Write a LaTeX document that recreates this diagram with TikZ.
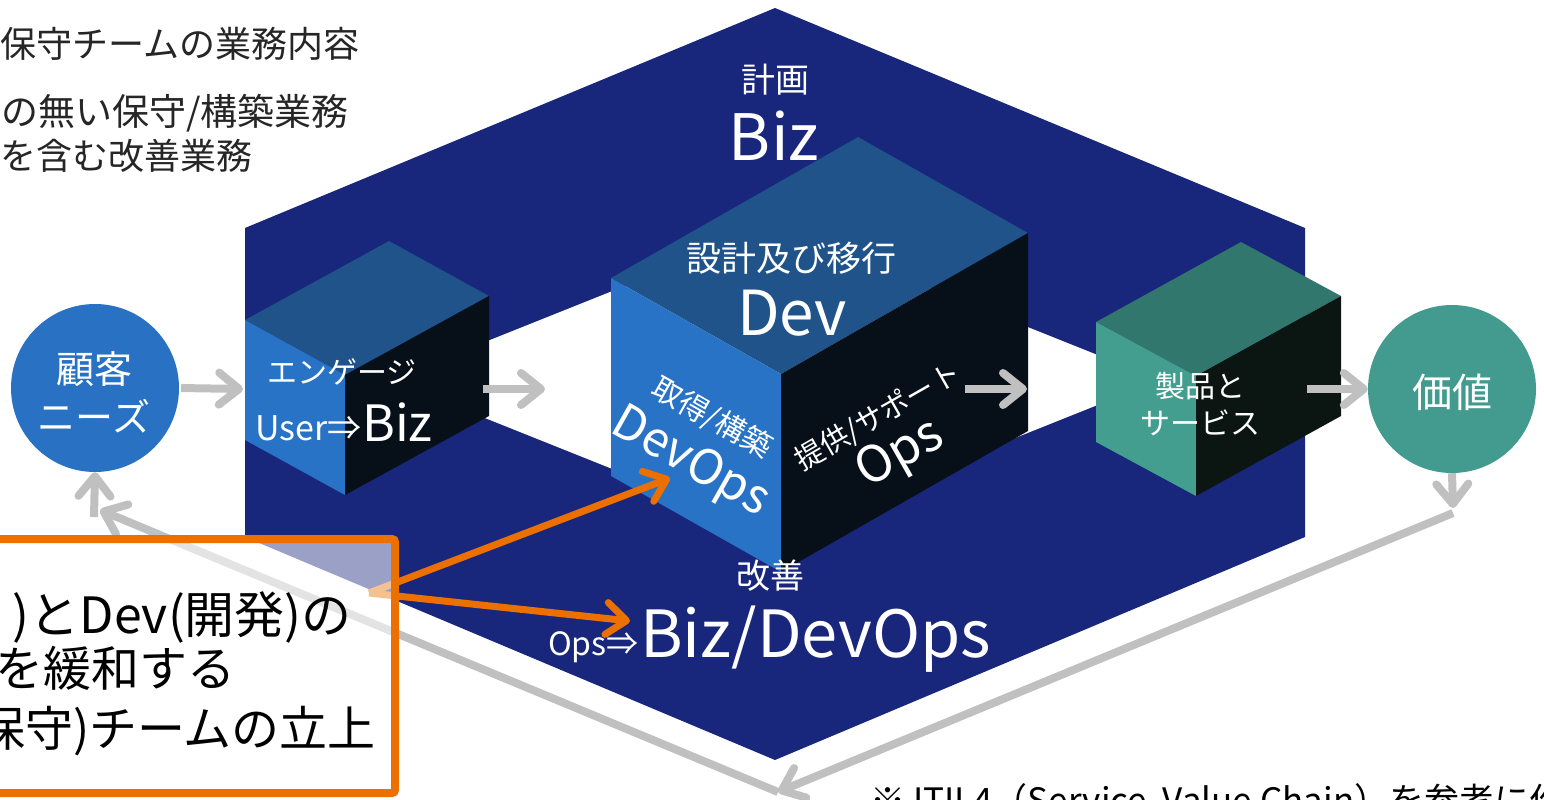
\documentclass[tikz,border=0pt]{standalone}
\usepackage{fontspec}
\setmainfont{Noto Sans CJK JP}
\usetikzlibrary{arrows.meta}

\definecolor{hexnavy}{RGB}{24,38,124}
\definecolor{blueTop}{RGB}{31,83,138}
\definecolor{blueSide}{RGB}{40,115,197}
\definecolor{blueDark}{RGB}{7,15,24}
\definecolor{tealTop}{RGB}{50,119,110}
\definecolor{tealSide}{RGB}{67,158,143}
\definecolor{tealDark}{RGB}{11,22,19}
\definecolor{needsBlue}{RGB}{41,113,194}
\definecolor{valueTeal}{RGB}{66,155,142}
\definecolor{flowGray}{RGB}{192,192,192}
\definecolor{noteOrange}{RGB}{236,112,0}
\definecolor{inkGray}{RGB}{38,38,38}

\newcommand{\pxfont}[1]{\fontsize{#1}{#1}\selectfont}

\tikzset{
  wlabel/.style={text=white, inner sep=0pt},
  klabel/.style={text=black, inner sep=0pt},
  glabel/.style={text=inkGray, inner sep=0pt},
  stage/.style={circle, inner sep=0pt, minimum size=168pt},
  flow/.style={draw=flowGray, line width=8pt,
    -{Straight Barb[length=20pt,width=32pt,round]}},
  hint/.style={draw=noteOrange, line width=7pt,
    -{Straight Barb[length=20pt,width=32pt,round]}},
}

\begin{document}
\begin{tikzpicture}[x=1pt,y=-1pt]
\useasboundingbox (0,0) rectangle (1544,800);

% value-chain hexagon with its centre opening
\fill[hexnavy] (775,8) -- (1305,228) -- (1305,537) -- (775,760) -- (245,537) -- (245,228) -- cycle;
\fill[white] (390,380) -- (775,226) -- (1160,380) -- (775,534) -- cycle;

% engage cube
\fill[blueTop]  (245,320) -- (345,375) -- (489,296) -- (389,241) -- cycle;
\fill[blueSide] (245,320) -- (345,375) -- (345,495) -- (245,440) -- cycle;
\fill[blueDark] (345,375) -- (489,296) -- (489,416) -- (345,495) -- cycle;

% design & transition cube
\fill[blueTop]  (611,278) -- (781,374) -- (1028,233) -- (858,137) -- cycle;
\fill[blueSide] (611,278) -- (781,374) -- (781,572) -- (611,476) -- cycle;
\fill[blueDark] (781,374) -- (1028,233) -- (1028,431) -- (781,572) -- cycle;

% products & services cube
\fill[tealTop]  (1096,322) -- (1196,376) -- (1341,296) -- (1241,242) -- cycle;
\fill[tealSide] (1096,322) -- (1196,376) -- (1196,496) -- (1096,442) -- cycle;
\fill[tealDark] (1196,376) -- (1341,296) -- (1341,416) -- (1196,496) -- cycle;

% customer needs and value
\node[stage, fill=needsBlue] (needs) at (95,388) {};
\node[stage, fill=valueTeal] (value) at (1452,389) {};

% connector end points
\coordinate (engIn)   at (243,389);
\coordinate (engOut)  at (483,389);
\coordinate (engTo)   at (545,389);
\coordinate (opsOut)  at (965,389);
\coordinate (opsTo)   at (1027,389);
\coordinate (prodOut) at (1307,389);
\coordinate (valDown) at (1453,508);
\coordinate (valTurn) at (1453,513);
\coordinate (loopLow) at (778,792);
\coordinate (needTurn) at (100,510);
\coordinate (needUp)  at (94,517);
\coordinate (noteOut) at (369,593);
\coordinate (devopsHit) at (670,478);
\coordinate (improveHit) at (630,621);

% value stream
\draw[flow, shorten <=2pt] (needs.east) -- (engIn);
\draw[flow] (engOut) -- (engTo);
\draw[flow] (opsOut) -- (opsTo);
\draw[flow] (prodOut) -- (value.west);
\draw[flow] (value.south) -- (valDown);
\draw[flow] (valTurn) -- (loopLow);
\draw[flow] (loopLow) -- (needTurn);
\draw[flow] (needUp) -- (needs.south);

% labels on the chain
\node[wlabel, font=\pxfont{34}] (planJa) at (775,80) {計画};
\node[wlabel, font=\pxfont{64}, anchor=base] (planEn) at (774,160) {Biz};
\node[wlabel, font=\pxfont{35}] (designJa) at (791,258) {設計及び移行};
\node[wlabel, font=\pxfont{62}, anchor=base] (designEn) at (792,335) {Dev};
\node[wlabel, font=\pxfont{30}] (engageJa) at (342,372) {エンゲージ};
\node[wlabel, font=\pxfont{34}, anchor=base east] (engageFrom) at (362,440) {User⇒};
\node[wlabel, font=\pxfont{50}, anchor=base west] (engageEn) at (362,441) {Biz};
\node[wlabel, font=\pxfont{30}, rotate=-29.5] (buildJa) at (712,418) {取得/構築};
\node[wlabel, font=\pxfont{48}, rotate=-29.5] (buildEn) at (690,463) {DevOps};
\node[wlabel, font=\pxfont{29}, rotate=29.7] (deliverJa) at (878,417) {提供/サポート};
\node[wlabel, font=\pxfont{50}, rotate=29.7] (deliverEn) at (901,455) {Ops};
\node[wlabel, font=\pxfont{30}] (prodA) at (1200,386) {製品と};
\node[wlabel, font=\pxfont{30}] (prodB) at (1200,423) {サービス};
\node[wlabel, font=\pxfont{38}] (needsA) at (94,369) {顧客};
\node[wlabel, font=\pxfont{38}] (needsB) at (94,416) {ニーズ};
\node[wlabel, font=\pxfont{40}] (valueJa) at (1452,392) {価値};
\node[wlabel, font=\pxfont{34}] (improveJa) at (770,576) {改善};
\node[wlabel, font=\pxfont{32}, anchor=base east] (improveFrom) at (639,655) {Ops⇒};
\node[wlabel, font=\pxfont{65}, anchor=base west] (improveEn) at (640,657) {Biz/DevOps};

% team proposal
\draw[hint] (noteOut) -- (devopsHit);
\draw[hint] (noteOut) -- (improveHit);
\node[draw=noteOrange, line width=8pt, fill=white, fill opacity=0.57, rounded corners=3pt,
      minimum width=420pt, minimum height=254pt, anchor=north east, inner sep=0pt]
      (note) at (399,535) {};
\node[klabel, font=\pxfont{50}, anchor=base east] (noteA) at (352,633) {)とDev(開発)の};
\node[klabel, font=\pxfont{48}, anchor=base west] (noteB) at (-5,686) {を緩和する};
\node[klabel, font=\pxfont{48}, anchor=base east] (noteC) at (376,746) {保守)チームの立上};

% maintenance team scope
\node[glabel, font=\pxfont{36}, anchor=base west] (scopeHead) at (0,57) {保守チームの業務内容};
\node[glabel, font=\pxfont{37}, anchor=base west] (scopeA) at (1,125) {の無い保守/構築業務};
\node[glabel, font=\pxfont{36}, anchor=base west] (scopeB) at (0,169) {を含む改善業務};

% source note
\node[klabel, font=\pxfont{35}, anchor=base west] (source) at (870,813) {※ ITIL4（Service\ \ Value Chain）を参考に作};
\end{tikzpicture}
\end{document}
